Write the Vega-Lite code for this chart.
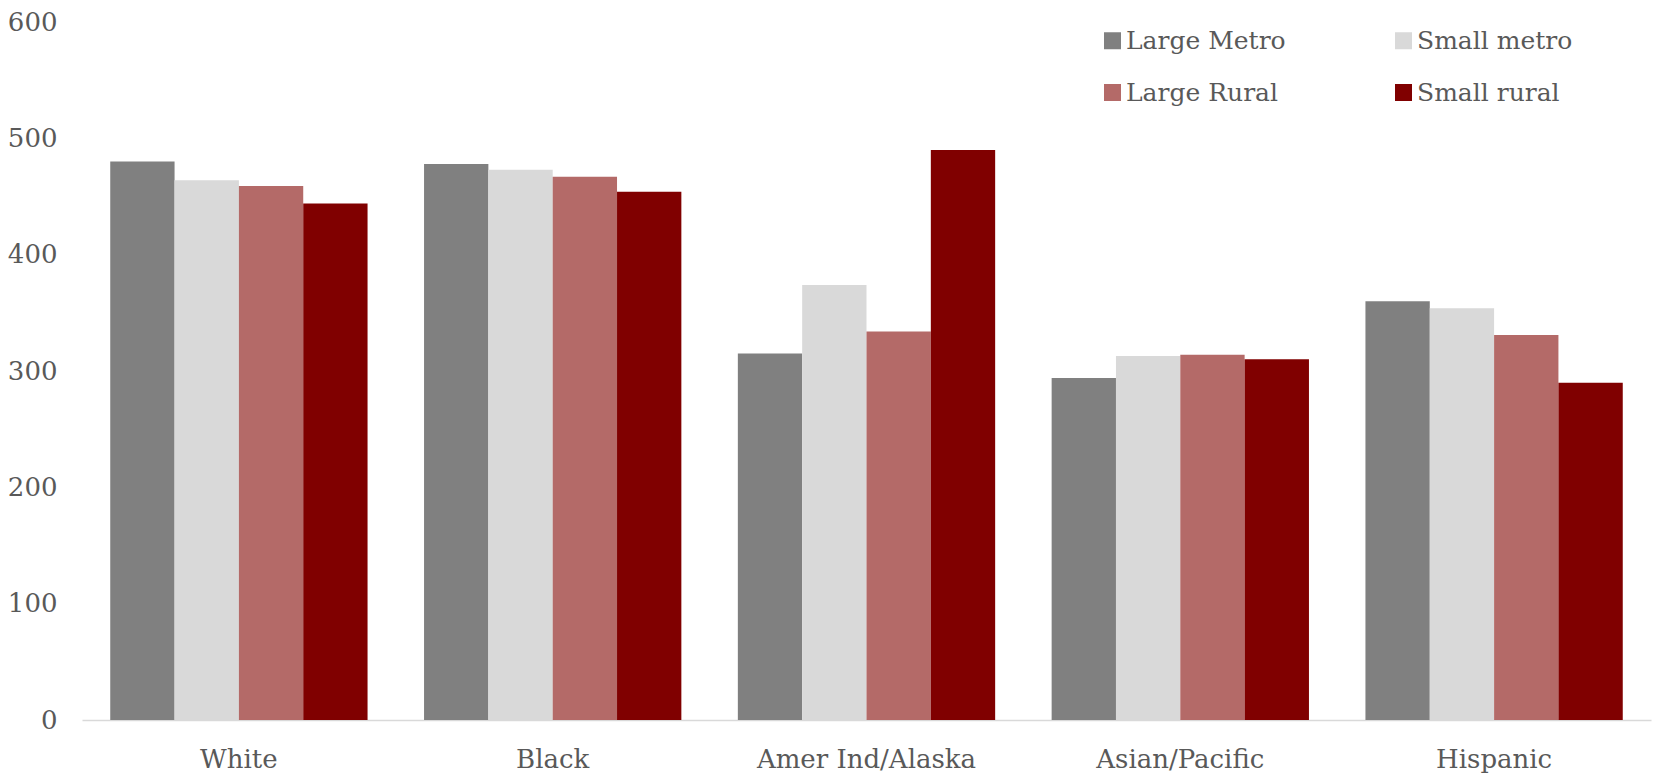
{
  "$schema": "https://vega.github.io/schema/vega-lite/v6.json",
  "width": 1569,
  "height": 698,
  "autosize": {"type": "none"},
  "padding": {"left": 82, "top": 22, "right": 3, "bottom": 55},
  "background": "white",
  "config": {
    "view": {"stroke": null},
    "font": "DejaVu Serif",
    "axis": {"labelFont": "DejaVu Serif", "labelFontSize": 26, "labelColor": "#595959", "grid": false, "ticks": false, "domain": false, "title": null, "labelLimit": 500},
    "legend": {"labelFont": "DejaVu Serif", "labelFontSize": 25, "labelColor": "#595959", "labelLimit": 500}
  },
  "data": {
    "values": [
      {"race": "White", "type": "Large Metro", "value": 480},
      {"race": "White", "type": "Small metro", "value": 464},
      {"race": "White", "type": "Large Rural", "value": 459},
      {"race": "White", "type": "Small rural", "value": 444},
      {"race": "Black", "type": "Large Metro", "value": 478},
      {"race": "Black", "type": "Small metro", "value": 473},
      {"race": "Black", "type": "Large Rural", "value": 467},
      {"race": "Black", "type": "Small rural", "value": 454},
      {"race": "Amer Ind/Alaska", "type": "Large Metro", "value": 315},
      {"race": "Amer Ind/Alaska", "type": "Small metro", "value": 374},
      {"race": "Amer Ind/Alaska", "type": "Large Rural", "value": 334},
      {"race": "Amer Ind/Alaska", "type": "Small rural", "value": 490},
      {"race": "Asian/Pacific", "type": "Large Metro", "value": 294},
      {"race": "Asian/Pacific", "type": "Small metro", "value": 313},
      {"race": "Asian/Pacific", "type": "Large Rural", "value": 314},
      {"race": "Asian/Pacific", "type": "Small rural", "value": 310},
      {"race": "Hispanic", "type": "Large Metro", "value": 360},
      {"race": "Hispanic", "type": "Small metro", "value": 354},
      {"race": "Hispanic", "type": "Large Rural", "value": 331},
      {"race": "Hispanic", "type": "Small rural", "value": 290}
    ]
  },
  "layer": [
    {
      "mark": {"type": "bar"},
      "encoding": {
        "x": {
          "field": "race", "type": "nominal",
          "sort": ["White", "Black", "Amer Ind/Alaska", "Asian/Pacific", "Hispanic"],
          "scale": {"paddingInner": 0.18, "paddingOuter": 0.09},
          "axis": {"labelAngle": 0, "labelPadding": 26, "domain": true, "domainColor": "#D9D9D9", "domainWidth": 1.5}
        },
        "xOffset": {"field": "type", "type": "nominal", "sort": ["Large Metro", "Small metro", "Large Rural", "Small rural"], "scale": {"paddingInner": 0, "paddingOuter": 0}},
        "y": {
          "field": "value", "type": "quantitative",
          "scale": {"domain": [0, 600], "nice": false},
          "axis": {"values": [0, 100, 200, 300, 400, 500, 600], "labelPadding": 25}
        },
        "color": {
          "field": "type", "type": "nominal",
          "sort": ["Large Metro", "Small metro", "Large Rural", "Small rural"],
          "scale": {"domain": ["Large Metro", "Small metro", "Large Rural", "Small rural"], "range": ["#808080", "#D9D9D9", "#B46A68", "#800000"]},
          "legend": {
            "title": null, "orient": "none", "legendX": 1018, "legendY": 6, "direction": "horizontal",
            "columns": 2, "symbolType": "square", "symbolSize": 289, "symbolStrokeWidth": 0,
            "labelOffset": 1, "columnPadding": 105, "rowPadding": 26, "padding": 0
          }
        }
      }
    }
  ]
}
